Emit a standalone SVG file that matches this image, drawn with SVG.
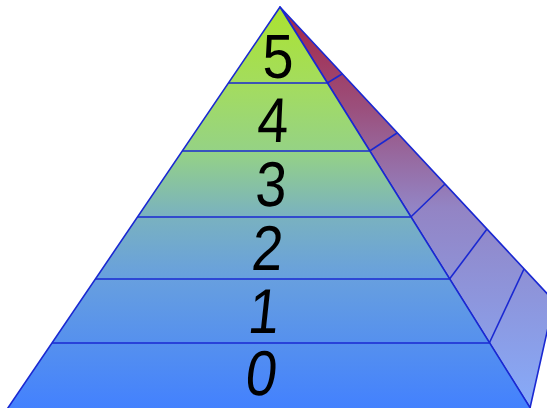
<svg xmlns="http://www.w3.org/2000/svg" width="547" height="408" viewBox="0 0 547 408">
<defs>
<linearGradient id="gf" gradientUnits="userSpaceOnUse" x1="0" y1="7" x2="0" y2="408">
<stop offset="0" stop-color="#abe330"/>
<stop offset="0.2" stop-color="#a3dc60"/>
<stop offset="0.36" stop-color="#95d285"/>
<stop offset="0.52" stop-color="#7ab2bf"/>
<stop offset="0.68" stop-color="#679fdf"/>
<stop offset="1" stop-color="#4381fe"/>
</linearGradient>
<linearGradient id="gs" gradientUnits="userSpaceOnUse" x1="0" y1="7" x2="0" y2="408">
<stop offset="0" stop-color="#a62443"/>
<stop offset="0.25" stop-color="#9b4f7c"/>
<stop offset="0.5" stop-color="#9384c4"/>
<stop offset="1" stop-color="#86abfa"/>
</linearGradient>
<style>
.e{stroke:#1a28d2;stroke-width:1.6;fill:none;stroke-linejoin:round}
.t{font-family:"Liberation Sans",Arial,sans-serif;font-size:62px;fill:#000;text-anchor:middle}
</style>
</defs>
<g id="side">
<polygon points="280,7 554,301 530,408" fill="url(#gs)"/>
<polygon class="e" points="280,7 554,301 530,408"/>
<g class="e">
<line x1="327.3" y1="83" x2="342" y2="74"/>
<line x1="369.7" y1="151" x2="397" y2="133"/>
<line x1="410.8" y1="217" x2="445" y2="184"/>
<line x1="449.5" y1="279" x2="487" y2="229"/>
<line x1="489.3" y1="343" x2="524" y2="269"/>
</g>
</g>
<g id="front">
<polygon points="280,7 531.5,410 6.5,410" fill="url(#gf)"/>
<polygon class="e" points="280,7 531.5,410 6.5,410"/>
</g>
<g id="connectors" class="e">
<line x1="228.5" y1="83" x2="327.3" y2="83"/>
<line x1="182.4" y1="151" x2="369.7" y2="151"/>
<line x1="137.6" y1="217" x2="410.8" y2="217"/>
<line x1="95.6" y1="279" x2="449.5" y2="279"/>
<line x1="52.2" y1="343" x2="489.3" y2="343"/>
</g>
<g id="level5"><text class="t" transform="translate(278,78) scale(0.9,1.02)">5</text></g>
<g id="level4"><text class="t" transform="translate(272,142) scale(0.9,1.02) skewX(-3)">4</text></g>
<g id="level3"><text class="t" transform="translate(270,206) scale(0.9,1.02) skewX(-4)">3</text></g>
<g id="level2"><text class="t" transform="translate(266,270) scale(0.9,1.02) skewX(-5)">2</text></g>
<g id="level1"><text class="t" transform="translate(262,333) scale(0.9,1.02) skewX(-7)">1</text></g>
<g id="level0"><text class="t" transform="translate(259,394.5) scale(0.9,1.02) skewX(-8)">0</text></g>
</svg>
